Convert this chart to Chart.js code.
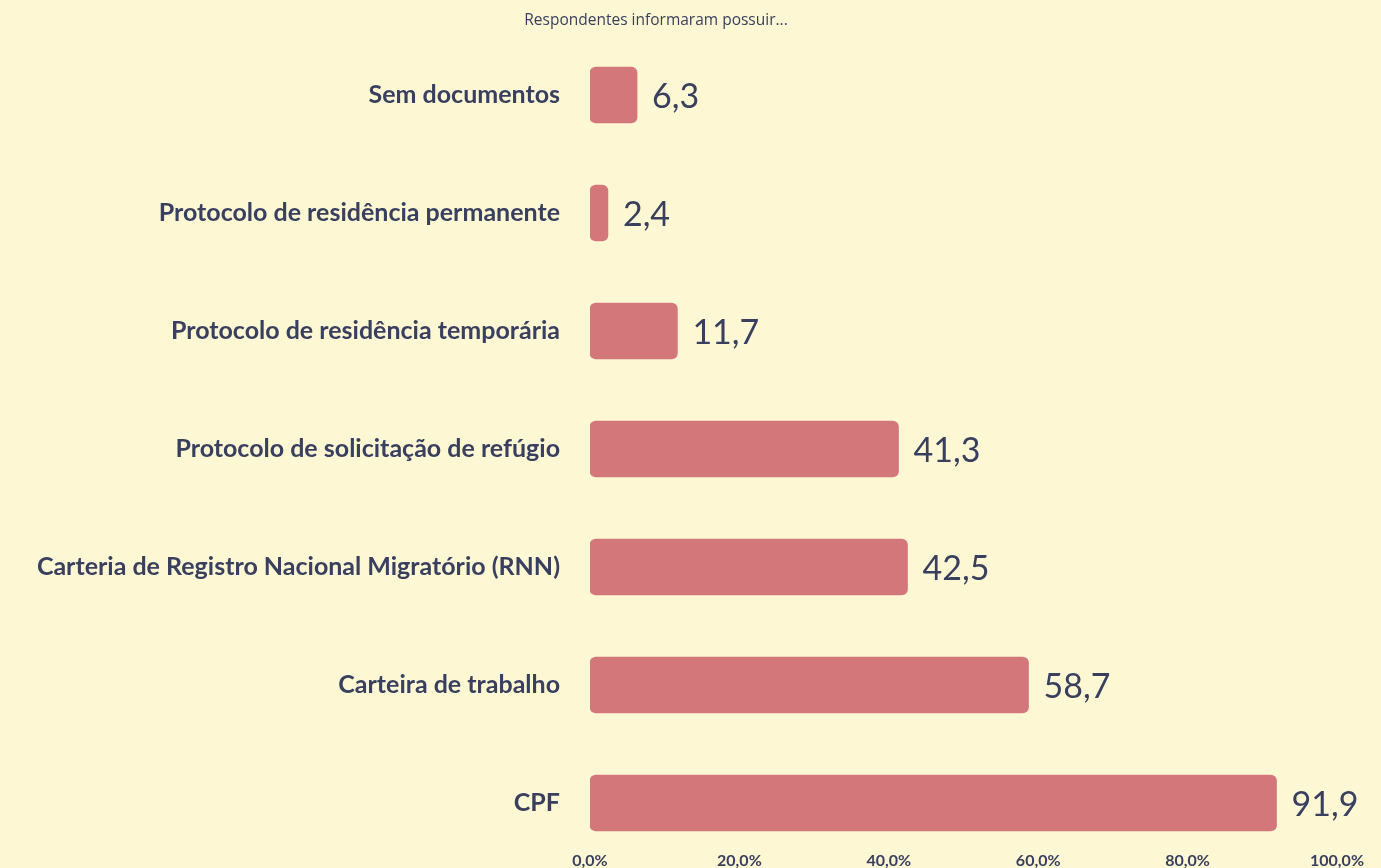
<!DOCTYPE html>
<html>
<head>
<meta charset="utf-8">
<script src="https://cdn.jsdelivr.net/npm/chart.js@4"></script>
<style>
  html, body { margin: 0; padding: 0; background: #fdf7d3; overflow: hidden; }
  canvas { display: block; }
</style>
</head>
<body>
<canvas id="docsChart" width="1381" height="868"></canvas>
<script>
const categories = [
  'Sem documentos',
  'Protocolo de residência permanente',
  'Protocolo de residência temporária',
  'Protocolo de solicitação de refúgio',
  'Carteria de Registro Nacional Migratório (RNN)',
  'Carteira de trabalho',
  'CPF'
];
const values = [6.3, 2.4, 11.7, 41.3, 42.5, 58.7, 91.9];
const xTicks = [0, 20, 40, 60, 80, 100];
const chartTitle = 'Respondentes informaram possuir...';

const textColor = '#383f5f';
const barColor = '#d4777b';
const fmt = v => v.toFixed(1).replace('.', ',');

// value labels at the end of each bar
const valueLabels = {
  id: 'valueLabels',
  afterDatasetsDraw(chart) {
    const ctx = chart.ctx;
    const meta = chart.getDatasetMeta(0);
    ctx.save();
    ctx.fillStyle = textColor;
    ctx.font = '34px Lato';
    ctx.textAlign = 'left';
    ctx.textBaseline = 'middle';
    meta.data.forEach((bar, i) => {
      ctx.fillText(fmt(values[i]), bar.x + 15, bar.y + 2);
    });
    ctx.restore();
  }
};

// small title above the plot
const topTitle = {
  id: 'topTitle',
  afterDraw(chart) {
    const ctx = chart.ctx;
    ctx.save();
    ctx.fillStyle = textColor;
    ctx.font = '15.5px "Open Sans"';
    ctx.textAlign = 'center';
    ctx.textBaseline = 'middle';
    ctx.fillText(chartTitle, 656, 21);
    ctx.restore();
  }
};

// x tick labels sit a little inside the bottom of the plot area
const raiseXAxis = {
  id: 'raiseXAxis',
  afterLayout(chart) {
    const x = chart.scales.x;
    x.top = 851;
    x.bottom = chart.height;
  }
};

new Chart(document.getElementById('docsChart'), {
  type: 'bar',
  data: {
    labels: categories,
    datasets: [{
      data: values,
      backgroundColor: barColor,
      borderRadius: 6,
      borderSkipped: false,
      barThickness: 56
    }]
  },
  options: {
    indexAxis: 'y',
    responsive: false,
    animation: false,
    layout: { padding: { top: 36, right: 44, left: 0, bottom: 0 } },
    plugins: {
      legend: { display: false },
      tooltip: { enabled: false }
    },
    scales: {
      x: {
        min: 0,
        max: 100,
        afterBuildTicks: axis => { axis.ticks = xTicks.map(v => ({ value: v })); },
        afterFit: axis => { axis.height = 6; axis.paddingLeft = 0; axis.paddingRight = 0; },
        grid: { display: false, drawTicks: false },
        border: { display: false },
        ticks: {
          padding: 0,
          color: textColor,
          font: { family: 'Lato', size: 16, weight: 'bold' },
          callback: v => fmt(v) + '%'
        }
      },
      y: {
        afterFit: axis => { axis.width = 590; axis.paddingTop = 0; axis.paddingBottom = 0; },
        grid: { display: false, drawTicks: false },
        border: { display: false },
        ticks: {
          padding: 30,
          color: textColor,
          font: { family: 'Lato', size: 25, weight: 'bold' }
        }
      }
    }
  },
  plugins: [valueLabels, topTitle, raiseXAxis]
});
</script>
</body>
</html>
